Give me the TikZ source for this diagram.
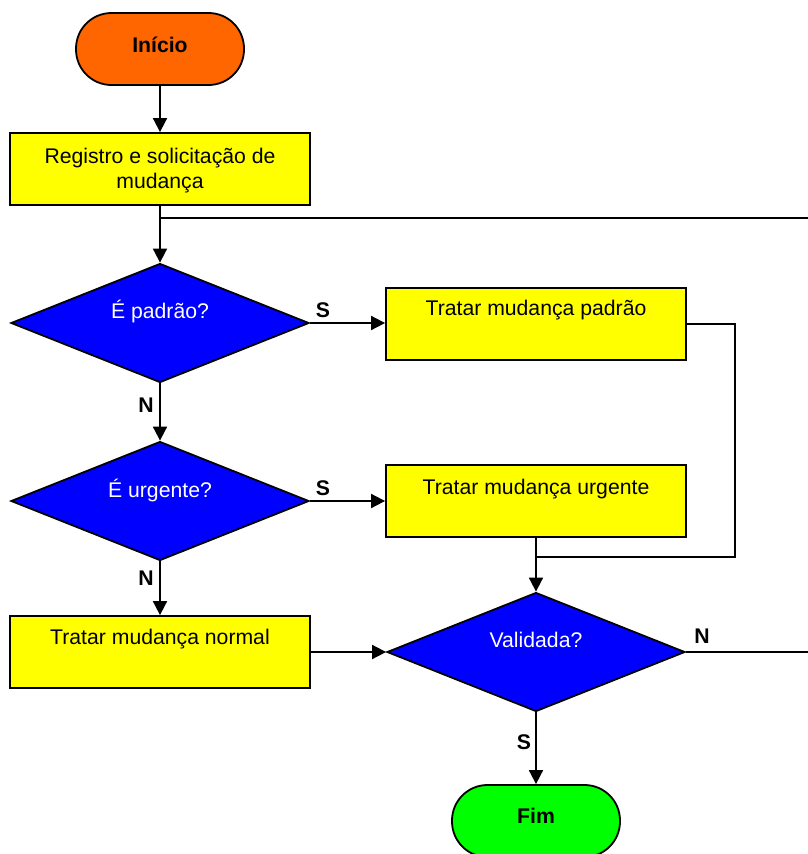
\documentclass[tikz,border=0pt]{standalone}
\usepackage{fontspec}
\setmainfont{Liberation Sans}
\usetikzlibrary{shapes.geometric,arrows.meta}
\definecolor{startorange}{HTML}{FF6600}
\definecolor{endgreen}{HTML}{00FF00}
\definecolor{boxyellow}{HTML}{FFFF00}
\definecolor{decblue}{HTML}{0000FF}

\begin{document}
\begin{tikzpicture}[x=1pt,y=-1pt,
  every node/.style={font=\fontsize{21.2}{25}\selectfont},
  line/.style={line width=1.8pt},
  arr/.style={line, -{Triangle[length=14pt,width=14pt]}},
  box/.style={draw, line width=1.8pt, fill=boxyellow, minimum width=300pt, minimum height=72pt, inner sep=0pt},
  term/.style={draw, line width=1.8pt, rounded corners=35.5pt, minimum width=168pt, minimum height=72pt, inner sep=0pt},
  decision/.style={diamond, draw, line width=1.8pt, fill=decblue, minimum width=298pt, minimum height=119pt, inner sep=0pt},
  txt/.style={inner sep=0pt, align=center},
  bold/.style={font=\fontsize{21.2}{25}\selectfont\bfseries},
  lbl/.style={bold, inner sep=0pt}
]
\useasboundingbox (0,0) rectangle (808,854);
\clip (0,0) rectangle (808,854);

% terminals
\node[term, fill=startorange] (inicio) at (160,49) {};
\node[txt, bold] (tinicio) at ([yshift=4pt]inicio.center) {Início};
\node[term, fill=endgreen] (fim) at (536,821) {};
\node[txt, bold] (tfim) at ([yshift=5pt]fim.center) {Fim};

% process boxes
\node[box] (reg) at (160,169) {};
\node[txt] (treg) at ([yshift=-2pt]reg.center) {Registro e solicitação de\\mudança};
\node[box] (padrao) at (536,324) {};
\node[txt] (tpadrao) at ([yshift=14pt]padrao.center) {Tratar mudança padrão};
\node[box] (urgente) at (536,501) {};
\node[txt] (turgente) at ([yshift=12pt]urgente.center) {Tratar mudança urgente};
\node[box] (normal) at (160,652) {};
\node[txt] (tnormal) at ([yshift=13pt]normal.center) {Tratar mudança normal};

% decisions
\node[decision] (d1) at (160,323) {};
\node[txt, white] (td1) at ([yshift=11pt]d1.center) {É padrão?};
\node[decision] (d2) at (160,501) {};
\node[txt, white] (td2) at ([yshift=10pt]d2.center) {É urgente?};
\node[decision] (val) at (536,652) {};
\node[txt, white] (tval) at ([yshift=12pt]val.center) {Validada?};

% junction points and loose ends
\coordinate (topright) at (808,218);
\coordinate (j1) at (reg.south |- topright);
\coordinate (j2) at (536,557);
\coordinate (valright) at (808,652);

% connectors
\draw[arr] (inicio) -- (reg);
\draw[arr] (reg.south) -- (d1.north);
\draw[line] (topright) -- (j1);

\draw[arr] (d1.east) -- (d1.east -| padrao.west);
\node[lbl] (s1) at ([xshift=13pt,yshift=13pt]d1.east) {S};
\draw[arr] (d1.south) -- (d2.north);
\node[lbl] (n1) at ([xshift=-14pt,yshift=-22pt]d1.south) {N};

\draw[arr] (d2.east) -- (d2.east -| urgente.west);
\node[lbl] (s2) at ([xshift=13pt,yshift=13pt]d2.east) {S};
\draw[arr] (d2.south) -- (normal.north);
\node[lbl] (n2) at ([xshift=-14pt,yshift=-17pt]d2.south) {N};

\draw[line] (padrao.east) -- ++(48,0) |- (j2);
\draw[arr] (urgente.south) -- (val.north);
\draw[arr] (normal.east) -- (val.west);

\draw[line] (val.east) -- (valright);
\node[lbl] (n3) at ([xshift=16pt,yshift=16pt]val.east) {N};
\draw[arr] (val.south) -- (fim.north);
\node[lbl] (s3) at ([xshift=-12pt,yshift=-30pt]val.south) {S};
\end{tikzpicture}
\end{document}
